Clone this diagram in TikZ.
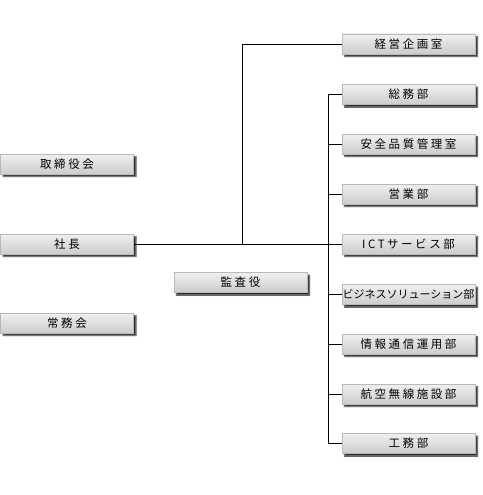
\documentclass[tikz,border=0pt]{standalone}
\usepackage{fontspec}
\newfontfamily\jp[LetterSpace=22]{Noto Sans CJK JP}
\newfontfamily\jpn{Noto Sans CJK JP}
\usetikzlibrary{shadows.blur}
\tikzset{
  orgbox/.style={rectangle, minimum width=133pt, minimum height=20pt, inner sep=0pt,
    draw=gray!55, line width=0.5pt,
    top color=gray!12, middle color=white!96!gray, bottom color=gray!40,
    blur shadow={shadow xshift=2.5pt, shadow yshift=-2.5pt, shadow blur radius=1.2pt, shadow opacity=85},
    font=\jp\fontsize{11.5}{12}\selectfont},
  conn/.style={draw=black, line width=0.8pt}
}
\begin{document}
\begin{tikzpicture}[x=1pt,y=-1pt]
\useasboundingbox (0,0) rectangle (482,495);
% left column
\node[orgbox] (torishimari) at (67,164) {取締役会};
\node[orgbox] (shacho) at (67,244) {社長};
\node[orgbox] (jomu) at (67,323) {常務会};
\node[orgbox] (kansa) at (240.5,282.5) {監査役};
% right column
\node[orgbox] (keiei) at (408.5,44) {経営企画室};
\node[orgbox] (soumu) at (408.5,94.5) {総務部};
\node[orgbox] (anzen) at (408.5,144) {安全品質管理室};
\node[orgbox] (eigyo) at (408.5,194) {営業部};
\node[orgbox] (ict) at (408.5,244) {ICTサービス部};
\node[orgbox, font=\jpn\fontsize{11}{12}\selectfont] (biz) at (408.5,294.5) {ビジネスソリューション部};
\node[orgbox] (joho) at (408.5,344) {情報通信運用部};
\node[orgbox] (koku) at (408.5,394) {航空無線施設部};
\node[orgbox] (koumu) at (408.5,443.5) {工務部};
% connectors
\coordinate (j1) at (242,244);
\coordinate (bt) at (328,94.5);
\coordinate (bb) at (328,443.5);
\draw[conn] (shacho.east) -- (ict.west);
\draw[conn] (j1) |- (keiei.west);
\draw[conn] (soumu.west) -- (bt) -- (bb) -- (koumu.west);
\foreach \n in {anzen,eigyo,biz,joho,koku}{
  \draw[conn] (\n.west) -- (\n.west -| bt);
}
\end{tikzpicture}
\end{document}
